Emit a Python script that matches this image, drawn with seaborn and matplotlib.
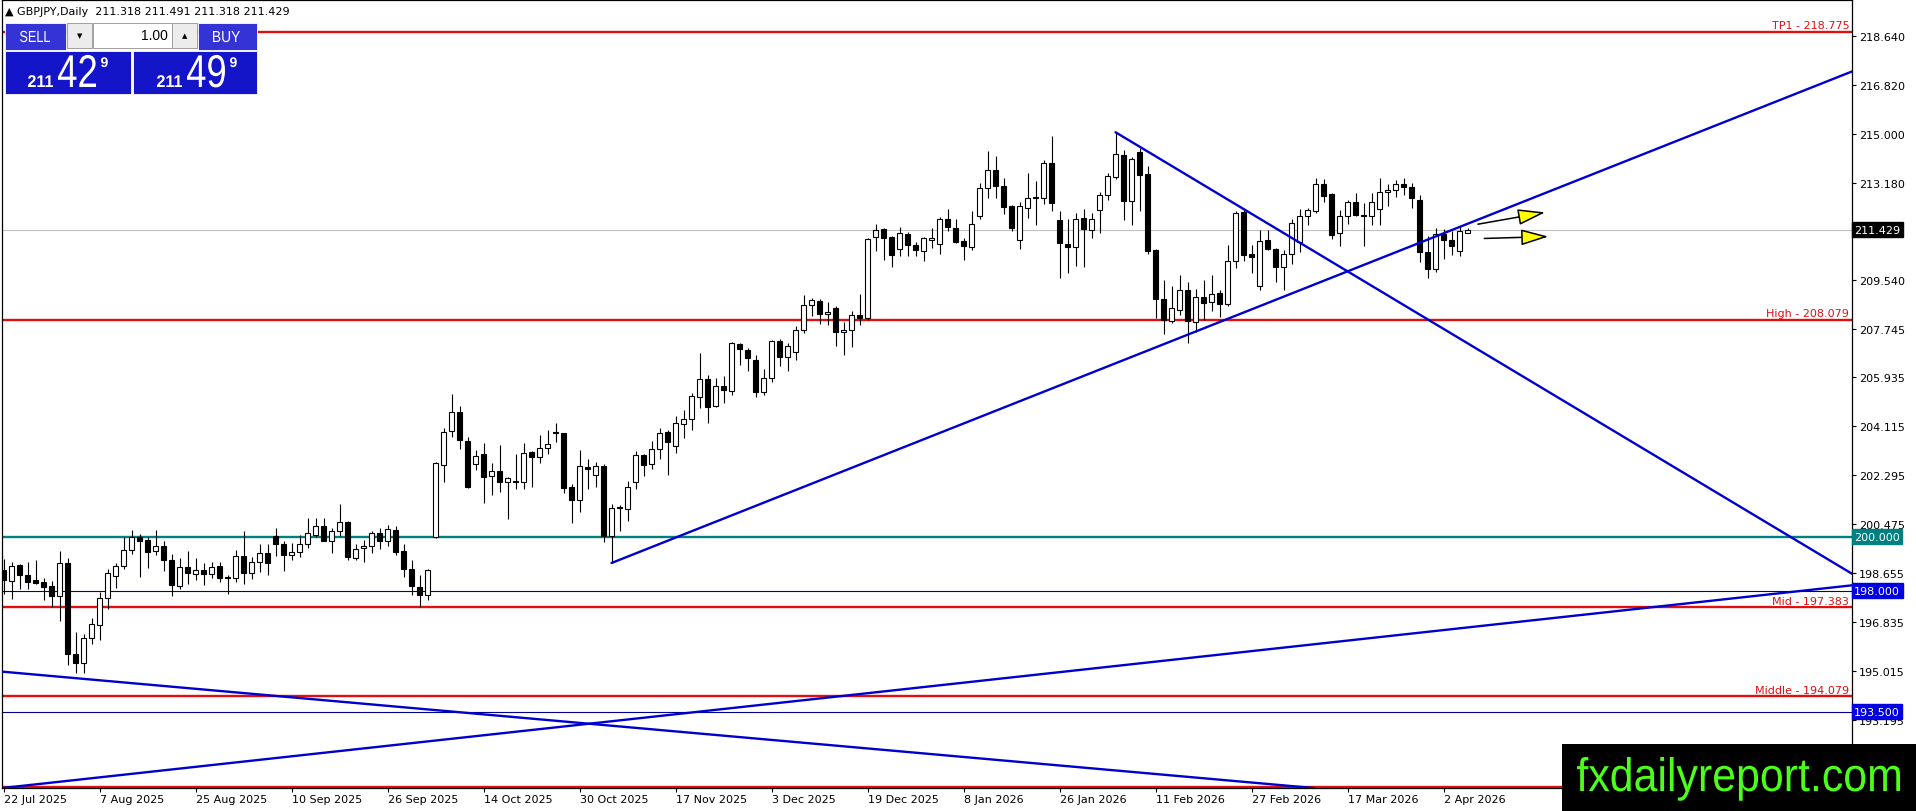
import matplotlib
matplotlib.use("Agg")
import matplotlib.pyplot as plt
import matplotlib.transforms as mtransforms
from matplotlib.patches import Rectangle, PathPatch
from matplotlib.textpath import TextPath
from matplotlib.font_manager import FontProperties
import seaborn as sns
import numpy as np

# GBPJPY daily candles, 22 Jul 2025 -> 7 Apr 2026
opens = [198.78, 198.37, 198.94, 198.59, 198.41, 198.31, 198.16, 197.81, 199.04, 195.65,
         195.31, 196.24, 196.73, 197.74, 198.56, 198.93, 199.53, 200.01, 199.90, 199.49,
         199.65, 199.15, 198.18, 198.89, 198.63, 198.78, 198.63, 198.91, 198.48, 198.48,
         199.30, 198.66, 199.05, 199.42, 200.02, 199.75, 199.34, 199.45, 199.75, 200.06,
         200.40, 199.86, 200.22, 200.57, 199.23, 199.59, 199.65, 200.16, 199.86, 200.27,
         199.49, 198.82, 198.15, 197.85, 200.00, 202.69, 203.93, 204.64, 203.56, 202.72,
         203.08, 202.26, 202.44, 202.03, 202.08, 202.03, 203.16, 202.96, 203.30, 203.92,
         203.86, 201.84, 201.39, 202.61, 202.31, 202.62, 200.02, 201.07, 201.02, 202.03,
         203.03, 202.71, 203.26, 203.91, 203.38, 204.19, 204.37, 205.22, 205.87, 204.86,
         205.61, 205.42, 207.16, 206.95, 206.59, 205.39, 205.91, 207.29, 206.69, 206.88,
         207.70, 208.63, 208.79, 208.30, 208.53, 207.62, 207.70, 208.25, 208.13, 211.14,
         211.44, 211.14, 210.72, 211.28, 210.87, 210.65, 211.03, 210.91, 211.82, 211.50,
         210.99, 210.80, 211.92, 212.96, 213.64, 213.05, 212.30, 211.04, 212.24, 212.60,
         212.59, 213.91, 211.77, 210.91, 210.78, 211.85, 211.43, 212.14, 212.70, 213.38,
         214.20, 212.51, 214.30, 213.50, 210.68, 208.86, 208.02, 208.43, 209.19, 208.01,
         208.93, 208.73, 209.08, 208.67, 210.27, 212.09, 210.52, 209.33, 211.06, 210.72,
         210.04, 210.53, 210.95, 211.95, 212.13, 213.11, 212.74, 211.29, 211.92, 212.44,
         211.98, 211.92, 212.21, 212.81, 212.89, 213.11, 213.00, 212.52, 210.61, 209.98,
         211.28, 211.06, 210.62, 211.318]
highs = [199.19, 199.05, 198.99, 199.05, 199.15, 198.46, 198.37, 199.47, 199.23, 196.47,
         196.39, 196.99, 197.94, 198.79, 199.02, 199.98, 200.25, 200.10, 200.00, 200.25,
         199.83, 199.38, 199.23, 199.49, 199.23, 199.03, 199.08, 199.07, 198.58, 199.50,
         200.21, 199.25, 199.75, 199.75, 200.32, 199.83, 199.78, 200.06, 200.71, 200.71,
         200.72, 200.32, 201.22, 200.60, 199.75, 199.90, 200.22, 200.32, 200.46, 200.40,
         199.73, 199.15, 198.57, 198.82, 202.79, 204.04, 205.32, 204.88, 203.71, 203.23,
         203.48, 202.74, 203.42, 202.24, 203.08, 203.48, 203.21, 203.78, 203.96, 204.23,
         203.88, 201.97, 203.23, 202.89, 202.79, 202.71, 201.22, 201.19, 202.09, 203.21,
         203.08, 203.56, 204.04, 203.98, 204.50, 204.73, 205.37, 206.84, 206.03, 205.91,
         205.97, 207.24, 207.21, 207.01, 206.75, 206.24, 207.34, 207.36, 207.21, 207.84,
         208.99, 208.89, 208.83, 208.73, 208.58, 208.00, 208.42, 209.02, 211.11, 211.62,
         211.50, 211.19, 211.54, 211.34, 210.97, 211.17, 211.48, 211.88, 212.19, 211.84,
         211.12, 212.13, 213.18, 214.34, 214.15, 213.33, 212.34, 212.44, 213.53, 213.25,
         214.00, 214.90, 212.11, 211.82, 212.06, 212.19, 212.06, 212.84, 213.53, 215.05,
         214.40, 214.12, 214.45, 213.78, 210.72, 209.55, 209.35, 209.73, 209.48, 209.23,
         209.55, 209.73, 209.18, 210.87, 212.11, 212.14, 210.85, 211.42, 211.42, 210.76,
         210.66, 211.82, 212.21, 212.25, 213.33, 213.31, 212.79, 212.16, 212.54, 212.79,
         212.41, 212.79, 213.33, 213.11, 213.26, 213.33, 213.15, 212.71, 211.19, 211.49,
         211.44, 211.37, 211.57, 211.491]
lows = [197.89, 197.69, 198.06, 198.06, 198.26, 197.66, 197.39, 196.87, 195.24, 194.93,
        194.93, 196.02, 196.17, 197.33, 198.11, 198.81, 199.38, 198.51, 198.86, 199.33,
        198.73, 197.81, 198.06, 198.26, 198.38, 198.21, 198.46, 198.33, 197.89, 198.33,
        198.26, 198.43, 198.68, 198.58, 199.30, 198.73, 199.15, 199.25, 199.59, 199.98,
        199.83, 199.40, 200.05, 199.15, 199.13, 199.07, 199.40, 199.56, 199.66, 199.33,
        198.51, 197.84, 197.39, 197.64, 199.97, 202.05, 203.71, 203.28, 201.83, 202.49,
        201.27, 201.55, 201.68, 200.65, 201.79, 201.77, 201.87, 202.76, 203.08, 203.52,
        201.62, 200.52, 200.93, 201.79, 201.87, 199.81, 199.03, 200.22, 200.60, 201.77,
        202.28, 202.54, 202.91, 202.29, 203.11, 203.67, 203.96, 204.78, 204.25, 204.85,
        204.98, 205.29, 206.41, 206.17, 205.20, 205.29, 205.76, 206.34, 206.16, 206.57,
        207.59, 208.21, 207.90, 207.89, 207.09, 206.75, 207.05, 207.87, 208.06, 210.63,
        210.30, 210.05, 210.45, 210.45, 210.45, 210.26, 210.76, 210.51, 211.38, 210.92,
        210.30, 210.67, 211.82, 212.62, 212.59, 212.00, 211.38, 210.70, 211.87, 211.59,
        212.38, 212.13, 209.63, 209.80, 210.07, 210.02, 211.11, 211.29, 212.54, 213.31,
        211.79, 211.59, 212.13, 210.51, 208.15, 207.56, 207.94, 208.27, 207.21, 207.62,
        208.08, 208.40, 208.18, 208.58, 210.01, 210.26, 209.80, 209.18, 210.68, 209.48,
        209.18, 210.14, 210.60, 211.59, 212.04, 212.44, 211.09, 210.82, 211.63, 211.92,
        210.82, 211.59, 211.59, 212.29, 212.64, 212.71, 212.24, 210.22, 209.63, 209.85,
        210.35, 210.47, 210.45, 211.318]
closes = [198.38, 198.93, 198.59, 198.33, 198.28, 198.13, 197.80, 199.04, 195.63, 195.31,
          196.24, 196.75, 197.74, 198.67, 198.93, 199.53, 200.01, 199.85, 199.44, 199.65,
          199.15, 198.22, 198.89, 198.66, 198.78, 198.63, 198.88, 198.48, 198.47, 199.30,
          198.66, 199.08, 199.42, 199.04, 199.75, 199.33, 199.45, 199.75, 200.16, 200.40,
          199.86, 200.22, 200.57, 199.25, 199.56, 199.65, 200.16, 199.86, 200.30, 199.45,
          198.82, 198.16, 197.85, 198.78, 202.74, 203.89, 204.64, 203.61, 201.85, 203.01,
          202.24, 202.44, 202.03, 202.20, 202.04, 203.12, 202.96, 203.30, 203.45, 203.86,
          201.83, 201.39, 202.62, 202.51, 202.62, 200.02, 201.08, 201.08, 201.87, 203.03,
          202.69, 203.26, 203.86, 203.52, 204.22, 204.37, 205.25, 205.87, 204.83, 205.62,
          205.45, 207.21, 206.97, 206.64, 205.39, 205.92, 207.30, 206.69, 207.10, 207.70,
          208.63, 208.82, 208.30, 208.37, 207.62, 207.71, 208.25, 208.13, 211.07, 211.42,
          211.13, 210.49, 211.32, 210.86, 210.67, 211.11, 211.11, 211.82, 211.53, 210.97,
          210.83, 211.65, 212.96, 213.64, 213.06, 212.28, 211.48, 212.31, 212.61, 212.61,
          213.89, 212.43, 210.92, 210.78, 211.84, 211.44, 211.84, 212.71, 213.41, 214.23,
          212.50, 214.05, 213.47, 210.63, 208.86, 208.07, 208.52, 209.19, 208.02, 208.93,
          208.71, 209.05, 208.68, 210.27, 212.03, 210.49, 210.41, 211.02, 210.72, 210.04,
          210.53, 211.69, 211.94, 212.14, 213.11, 212.69, 211.23, 211.92, 212.44, 211.98,
          211.94, 212.44, 212.81, 212.89, 213.11, 213.01, 212.59, 210.60, 209.98, 211.27,
          211.04, 210.82, 211.39, 211.429]

date_tick_bars = [0, 12, 24, 36, 48, 60, 72, 84, 96, 108, 120, 132, 144, 156, 168, 180]
date_tick_labels = ["22 Jul 2025", "7 Aug 2025", "25 Aug 2025", "10 Sep 2025", "26 Sep 2025",
                    "14 Oct 2025", "30 Oct 2025", "17 Nov 2025", "3 Dec 2025", "19 Dec 2025",
                    "8 Jan 2026", "26 Jan 2026", "11 Feb 2026", "27 Feb 2026", "17 Mar 2026",
                    "2 Apr 2026"]
price_ticks = [218.640, 216.820, 215.000, 213.180, 209.540, 207.745, 205.935, 204.115,
               202.295, 200.475, 198.655, 196.835, 195.015, 193.195]

# horizontal levels
red_levels = [218.775, 208.079, 197.383, 194.079, 190.70]
red_names = ["TP1 - 218.775", "High - 208.079", "Mid - 197.383", "Middle - 194.079", ""]
teal_level = 200.000
blue_levels = [198.000, 193.500]
last_price = 211.429

# trend lines (bar index, price)
trend_up_x, trend_up_y = [76, 231.06], [199.03, 217.31]
trend_down_x, trend_down_y = [139, 231.06], [215.05, 198.63]
long_up_x, long_up_y = [-0.19, 231.06], [190.66, 198.20]
long_down_x, long_down_y = [-0.19, 163.8], [194.99, 190.66]

# arrows (start, end)
arrows = [((184.3, 211.63), (192.7, 212.07)), ((185.1, 211.10), (193.1, 211.17))]

sns.set_style("white")
plt.rcParams["font.family"] = ["DejaVu Sans"]

W, H = 1916, 812
fig = plt.figure(figsize=(W / 100, H / 100), dpi=100)
fig.patch.set_facecolor("white")
ax = fig.add_axes([2 / W, 1 - 789 / H, 1850 / W, 788 / H])
ax.set_xlim(-0.19, 231.06)
ax.set_ylim(190.662, 219.968)

RED = "#e01010"
BLUE = "#0000cc"

o = np.array(opens); h = np.array(highs); l = np.array(lows); c = np.array(closes)
x = np.arange(len(o))
up = c >= o
ax.vlines(x, l, h, color="black", lw=0.8, zorder=4)
body_lo = np.minimum(o, c)
body_h = np.maximum(np.abs(c - o), 0.03)
ax.bar(x[up], body_h[up], bottom=body_lo[up], width=0.62, color="white",
       edgecolor="black", lw=0.8, zorder=5)
ax.bar(x[~up], body_h[~up], bottom=body_lo[~up], width=0.62, color="black",
       edgecolor="black", lw=0.8, zorder=5)

# levels
blend = mtransforms.blended_transform_factory(ax.transAxes, ax.transData)
for lvl, name in zip(red_levels, red_names):
    ax.axhline(lvl, color=RED, lw=1.7, zorder=2)
    if name:
        bb = dict(fc="white", ec="none", pad=0.5) if name.startswith("Mid -") else None
        ax.text(0.9985, lvl + 0.06, name, transform=blend, ha="right", va="bottom",
                color=RED, fontsize=8, bbox=bb, zorder=7)
ax.axhline(teal_level, color="#008080", lw=1.7, zorder=2)
for lvl in blue_levels:
    ax.axhline(lvl, color="#00008b", lw=0.8, zorder=2)
ax.axhline(last_price, color="#c0c0c0", lw=0.8, zorder=1)

# trend lines
for tx, ty in [(trend_up_x, trend_up_y), (trend_down_x, trend_down_y),
               (long_up_x, long_up_y), (long_down_x, long_down_y)]:
    sns.lineplot(x=tx, y=ty, ax=ax, color=BLUE, lw=1.7, zorder=6)

for (x0, y0), (x1, y1) in arrows:
    ax.annotate("", xy=(x1, y1), xytext=(x0, y0),
                arrowprops=dict(arrowstyle="-|>,head_length=1.7,head_width=0.5",
                                fc="#ffff00", ec="black", lw=1.1, shrinkA=0, shrinkB=0),
                zorder=8)

# axes styling
for s in ax.spines.values():
    s.set_color("black")
    s.set_linewidth(0.9)
ax.yaxis.tick_right()
ax.set_yticks(price_ticks)
ax.set_yticklabels([f"{v:.3f}" for v in price_ticks])
ax.set_xticks(date_tick_bars)
ax.set_xticklabels(date_tick_labels, ha="left")
ax.tick_params(axis="y", right=True, left=False, length=3, width=0.8, pad=2,
               labelsize=8, colors="black")
ax.tick_params(axis="x", bottom=True, length=3, width=0.8, pad=1, labelsize=8,
               colors="black")
ax.set_xlabel("")
ax.set_ylabel("")

# price tags on the right scale
tags = [(last_price, "211.429", "black"), (teal_level, "200.000", "#008080"),
        (blue_levels[0], "198.000", "#0000e0"), (blue_levels[1], "193.500", "#0000e0")]
for lvl, txt, col in tags:
    ax.text(1.0012, lvl, txt, transform=blend, ha="left", va="center", color="white",
            fontsize=8, clip_on=False, zorder=9,
            bbox=dict(boxstyle="square,pad=0.22", fc=col, ec=col))

# header
fig.text(5 / W, 1 - 12 / H, "\u25B2 GBPJPY,Daily  211.318 211.491 211.318 211.429",
         ha="left", va="center", fontsize=8, color="black")


def fig_rect(x0, y0, x1, y1, **kw):
    fig.add_artist(Rectangle((x0 / W, 1 - y1 / H), (x1 - x0) / W, (y1 - y0) / H,
                             transform=fig.transFigure, **kw))


def fig_text(xp, yp, s, **kw):
    fig.text(xp / W, 1 - yp / H, s, **kw)


# text drawn as a path, so it can be squeezed to the narrow look of the terminal fonts
def path_text(s, x_left, y_base, size, width=None, color="white", weight="normal", z=11):
    tp = TextPath((0, 0), s, size=size,
                  prop=FontProperties(family="Liberation Sans", weight=weight))
    ext = tp.get_extents()
    sx = width / ext.width if width else 1.0
    tr = mtransforms.Affine2D().translate(-ext.x0, 0).scale(sx, 1).translate(x_left, H - y_base)
    fig.add_artist(PathPatch(tp, transform=tr, fc=color, ec="none", zorder=z))


# one-click trading panel
fig_rect(5, 24, 66, 51, fc="#3434d6", ec="white", lw=0.6, zorder=10)
fig_rect(198, 24, 257, 51, fc="#3434d6", ec="white", lw=0.6, zorder=10)
fig_rect(67, 24, 92, 49, fc="#ececec", ec="#a0a0a0", lw=0.7, zorder=10)
fig_rect(93, 24, 172, 49, fc="white", ec="#a0a0a0", lw=0.7, zorder=10)
fig_rect(172, 24, 197, 49, fc="#ececec", ec="#a0a0a0", lw=0.7, zorder=10)
fig_rect(5, 52, 131, 95, fc="#1414c8", ec="white", lw=0.6, zorder=10)
fig_rect(133, 52, 257, 95, fc="#1414c8", ec="white", lw=0.6, zorder=10)
path_text("SELL", 20, 43, 16, width=30)
path_text("BUY", 213, 43, 16, width=27)
fig_text(79.5, 36.5, "\u25BC", ha="center", va="center", color="black", fontsize=5, zorder=11)
fig_text(184.5, 36.5, "\u25B2", ha="center", va="center", color="black", fontsize=5, zorder=11)
fig_text(168, 36.5, "1.00", ha="right", va="center", color="black", fontsize=10,
         family="Liberation Sans", zorder=11)
for x0, big_txt in [(28, "42"), (157, "49")]:
    path_text("211", x0, 88, 17, width=25, weight="bold")
    path_text(big_txt, x0 + 30, 88, 46, width=38)
    path_text("9", x0 + 73, 68, 14, weight="bold")

# watermark
fig_rect(1562, 745, 1916, 812, fc="black", ec="none", zorder=12)
path_text("fxdailyreport.com", 1577, 792, 47, width=323, color="#4cff1a", z=13)

fig.savefig("out.png", dpi=100)
